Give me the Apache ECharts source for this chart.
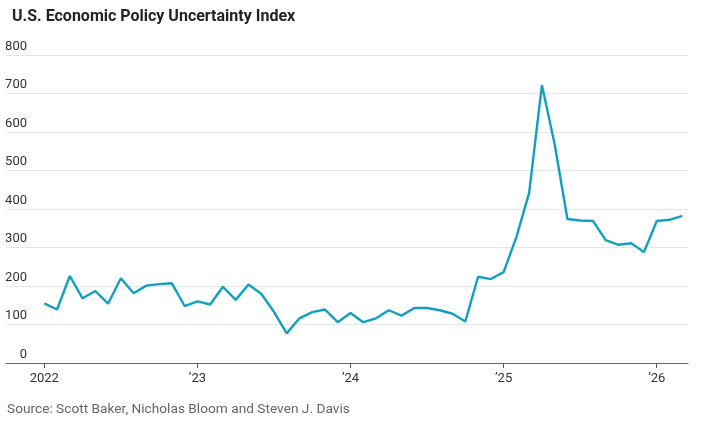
<!DOCTYPE html>
<html>
<head>
<meta charset="utf-8">
<script src="https://cdn.jsdelivr.net/npm/echarts@6/dist/echarts.min.js"></script>
<style>
html,body{margin:0;padding:0;background:#fff;}
#chart{width:707px;height:424px;}
</style>
</head>
<body>
<div id="chart"></div>
<script>
// Monthly observations, Jan 2022 – Mar 2026
const startYear = 2022;
const values = [
  155, 139, 226, 168, 187, 154, 220, 181, 201, 205, 207, 148,   // 2022
  160, 152, 198, 164, 204, 180, 133, 77, 116, 132, 139, 106,    // 2023
  130, 106, 116, 137, 123, 143, 143, 137, 128, 108, 224, 218,   // 2024
  236, 327, 442, 722, 568, 374, 370, 369, 319, 307, 311, 288,   // 2025
  369, 372, 382                                                  // 2026
];
const months = values.map((_, i) => {
  const y = startYear + Math.floor(i / 12);
  const m = (i % 12) + 1;
  return y + '-' + String(m).padStart(2, '0');
});
const tickIndex = [0, 12, 24, 36, 48];
const tickLabels = ['2022', '\u201923', '\u201924', '\u201925', '\u201926'];
const yTicks = [0, 100, 200, 300, 400, 500, 600, 700, 800];

const chart = echarts.init(document.getElementById('chart'), null, {renderer: 'canvas'});
const font = 'Roboto, "Liberation Sans", sans-serif';

chart.setOption({
  animation: false,
  backgroundColor: '#fff',
  title: {
    text: 'U.S. Economic Policy Uncertainty Index',
    left: 7, top: 4,
    textStyle: {fontFamily: font, fontSize: 16, fontWeight: 'bold', color: '#222'}
  },
  graphic: [{
    type: 'text', left: 7, top: 403,
    style: {text: 'Source: Scott Baker, Nicholas Bloom and Steven J. Davis',
            fontFamily: font, fontSize: 13.7, fill: '#666'}
  }],
  grid: {left: 6, right: 19, top: 55, bottom: 61, containLabel: false},
  xAxis: {
    type: 'value',
    min: -3, max: 50.45,
    axisLine: {show: true, lineStyle: {color: '#666', width: 1}},
    axisTick: {show: true, length: 5, lineStyle: {color: '#555'}, customValues: tickIndex},
    splitLine: {show: false},
    axisLabel: {
      customValues: tickIndex,
      margin: 9,
      fontFamily: font, fontSize: 13, color: '#333',
      formatter: v => tickLabels[tickIndex.indexOf(v)]
    }
  },
  yAxis: {
    type: 'value',
    min: 0, max: 800, interval: 100,
    axisLine: {show: false},
    axisTick: {show: false},
    splitLine: {lineStyle: {color: '#e6e6e6', width: 1}},
    axisLabel: {
      inside: true,
      align: 'right',
      verticalAlign: 'bottom',
      margin: 21,
      padding: [0, 0, 2, 0],
      fontFamily: font, fontSize: 13, color: '#333',
      formatter: v => yTicks.includes(v) ? String(v) : ''
    }
  },
  series: [{
    type: 'line',
    data: values.map((v, i) => [i, v]),
    name: 'EPU',
    showSymbol: false,
    symbol: 'none',
    lineStyle: {color: '#12a0bf', width: 2.4},
    z: 5
  }]
});
</script>
</body>
</html>
